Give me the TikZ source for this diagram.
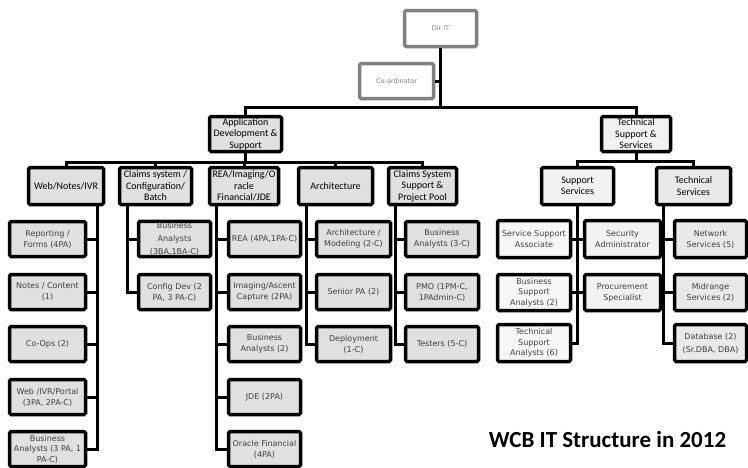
\documentclass[tikz,border=0pt]{standalone}
\usepackage{fontspec}
\setmainfont{Carlito}
\newfontfamily\leaffont{DejaVu Sans}
\usepackage{tikz}
\usetikzlibrary{calc}
\usepackage{xcolor}
\definecolor{boxgray}{HTML}{E0E0E0}
\definecolor{lightbox}{HTML}{F2F2F2}
\definecolor{paleb}{HTML}{F7F7F7}
\definecolor{midbox}{HTML}{E9E9E9}
\definecolor{mgrline}{HTML}{808080}
\definecolor{leaftext}{HTML}{404040}

\begin{document}
\begin{tikzpicture}[x=1pt,y=-1pt,
  link/.style={line width=3pt},
  topbox/.style={draw=mgrline,line width=3.5pt,fill=white,rounded corners=1.5pt,
    minimum width=72pt,minimum height=36pt,inner sep=1pt,text=mgrline,
    font=\leaffont\fontsize{6.5}{8}\selectfont},
  unitbox/.style={draw=black,line width=3.5pt,fill=boxgray,rounded corners=1.5pt,
    minimum height=37pt,inner sep=1pt,align=center,
    font=\fontsize{10}{11.5}\selectfont},
  leafbox/.style={unitbox,minimum height=35pt,text=leaftext,
    font=\leaffont\fontsize{8}{11}\selectfont},
]
\useasboundingbox (0,0) rectangle (748,467);

\node[topbox] (dir) at (440.5,28.5) {Dir IT};
\node[topbox,minimum width=74pt,minimum height=35pt] (coord) at (396.5,81) {Co-ordinator};
\node[unitbox,minimum width=72pt,minimum height=35pt] (appdev) at (245.5,134) {Application\\Development \&\\Support};
\node[unitbox,fill=lightbox,minimum width=69pt,minimum height=35pt] (tss) at (636,134) {Technical\\Support \&\\Services};

\node[unitbox,minimum width=75pt] (web) at (66,186) {Web/Notes/IVR};
\node[unitbox,minimum width=72pt] (claims) at (155.5,186) {Claims system /\\Configuration/\\Batch};
\node[unitbox,minimum width=69pt] (rea) at (244,186) {REA/Imaging/O\\racle\\Financial/JDE};
\node[unitbox,minimum width=74pt] (arch) at (335.5,186) {Architecture};
\node[unitbox,minimum width=68pt] (pool) at (422.5,186) {Claims System\\Support \&\\Project Pool};
\node[unitbox,fill=lightbox,minimum width=72pt] (supsvc) at (577.5,186) {Support\\Services};
\node[unitbox,fill=midbox,minimum width=74pt] (techsvc) at (693.5,186) {Technical\\Services};

\node[leafbox,minimum width=76pt] (rep) at (47.5,239) {Reporting /\\Forms (4PA)};
\node[leafbox,minimum width=76pt] (notes) at (47.5,292) {Notes / Content\\(1)};
\node[leafbox,minimum width=76pt] (coops) at (47.5,344) {Co-Ops (2)};
\node[leafbox,minimum width=76pt] (webivr) at (47.5,397) {Web /IVR/Portal\\(3PA, 2PA-C)};
\node[leafbox,minimum width=76pt,font=\leaffont\fontsize{8}{10.5}\selectfont] (webba) at (47.5,449) {Business\\Analysts (3 PA, 1\\PA-C)};

\node[leafbox,minimum width=72pt,font=\leaffont\fontsize{8}{13}\selectfont] (cba) at (174.5,239) {Business\\Analysts\\(3BA,1BA-C)};
\node[leafbox,minimum width=72pt] (cfg) at (174.5,292) {Config Dev (2\\PA, 3 PA-C)};

\node[leafbox,minimum width=72pt] (rea1) at (264.5,239) {REA (4PA,1PA-C)};
\node[leafbox,minimum width=72pt] (img) at (264.5,292) {Imaging/Ascent\\Capture (2PA)};
\node[leafbox,minimum width=72pt] (reaba) at (264.5,344) {Business\\Analysts (2)};
\node[leafbox,minimum width=72pt] (jde) at (264.5,397) {JDE (2PA)};
\node[leafbox,minimum width=72pt] (oracle) at (264.5,449) {Oracle Financial\\(4PA)};

\node[leafbox,minimum width=74pt] (archmod) at (353.5,239) {Architecture /\\Modeling (2-C)};
\node[leafbox,minimum width=74pt] (senior) at (353.5,292) {Senior PA (2)};
\node[leafbox,minimum width=74pt] (deploy) at (353.5,344) {Deployment\\(1-C)};

\node[leafbox,minimum width=73pt] (pba) at (442,239) {Business\\Analysts (3-C)};
\node[leafbox,minimum width=73pt] (pmo) at (442,292) {PMO (1PM-C,\\1PAdmin-C)};
\node[leafbox,minimum width=73pt] (test) at (442,344) {Testers (5-C)};

\node[leafbox,fill=paleb,minimum width=73pt,minimum height=37pt] (ssa) at (534,239) {Service Support\\Associate};
\node[leafbox,fill=paleb,minimum width=73pt,minimum height=36pt,font=\leaffont\fontsize{8}{10.5}\selectfont] (bsa) at (534,292.5) {Business\\Support\\Analysts (2)};
\node[leafbox,fill=paleb,minimum width=73pt,minimum height=37pt,font=\leaffont\fontsize{8}{10.5}\selectfont] (tsa) at (534,343) {Technical\\Support\\Analysts (6)};
\node[leafbox,fill=lightbox,minimum width=76pt,minimum height=37pt] (sec) at (622.5,239) {Security\\Administrator};
\node[leafbox,fill=lightbox,minimum width=76pt,minimum height=36pt] (proc) at (622.5,292.5) {Procurement\\Specialist};
\node[leafbox,fill=midbox,minimum width=72pt,minimum height=37pt] (net) at (710.5,239) {Network\\Services (5)};
\node[leafbox,fill=midbox,minimum width=72pt,minimum height=36pt] (mid) at (710.5,292.5) {Midrange\\Services (2)};
\node[leafbox,fill=midbox,minimum width=72pt,minimum height=37pt,font=\leaffont\fontsize{8}{13}\selectfont] (db) at (710.5,343) {Database (2)\\(Sr.DBA, DBA)};

\node[anchor=base,font=\bfseries\fontsize{23}{23}\selectfont] (title) at (607.5,447) {WCB IT Structure in 2012};

\coordinate (topbus) at (441,107);
\coordinate (appbus) at (246,162);
\coordinate (tssbus) at (635,161);

\draw[link] (dir.south) -- (dir.south |- topbus) -| (appdev.north);
\draw[link] (dir.south |- topbus) -| (tss.north);
\draw[link] (coord.east) -- (coord.east -| dir.south);

\foreach \c in {web,claims,rea,arch,pool}
  \draw[link] (appdev.south) -- (appdev.south |- appbus) -| (\c.north);
\foreach \c in {supsvc,techsvc}
  \draw[link] (tss.south) -- (tss.south |- tssbus) -| (\c.north);

\foreach \c in {rep,notes,coops,webivr,webba}
  \draw[link] ([xshift=31pt]web.south) |- (\c.east);
\foreach \c in {cba,cfg}
  \draw[link] ([xshift=-28.5pt]claims.south) |- (\c.west);
\foreach \c in {rea1,img,reaba,jde,oracle}
  \draw[link] ([xshift=-28pt]rea.south) |- (\c.west);
\foreach \c in {archmod,senior,deploy}
  \draw[link] ([xshift=-29.5pt]arch.south) |- (\c.west);
\foreach \c in {pba,pmo,test}
  \draw[link] ([xshift=-27.5pt]pool.south) |- (\c.west);
\foreach \c in {ssa,bsa,tsa}
  \draw[link] (supsvc.south) |- (\c.east);
\foreach \c in {sec,proc}
  \draw[link] (supsvc.south) |- (\c.west);
\foreach \c in {net,mid,db}
  \draw[link] ([xshift=-30.5pt]techsvc.south) |- (\c.west);
\end{tikzpicture}
\end{document}
